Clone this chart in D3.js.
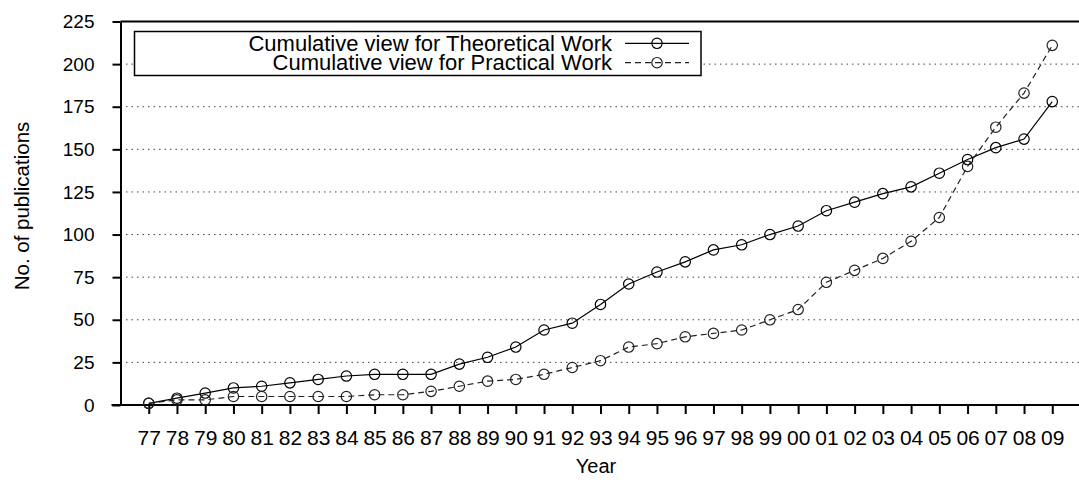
<!DOCTYPE html>
<html>
<head>
<meta charset="utf-8">
<script src="https://cdn.jsdelivr.net/npm/d3@7"></script>
<style>
  html, body { margin: 0; padding: 0; background: #fff; }
  svg { display: block; font-family: "Liberation Sans", Arial, Helvetica, sans-serif; }
</style>
</head>
<body>
<div id="chart"></div>
<script>
// two-digit year labels, 1977 .. 2009
const years = ['77', '78', '79', '80', '81', '82', '83', '84', '85', '86', '87', '88', '89', '90', '91', '92',
  '93', '94', '95', '96', '97', '98', '99', '00', '01', '02', '03', '04', '05', '06', '07', '08', '09'];

const theoretical = [1, 4, 7, 10, 11, 13, 15, 17, 18, 18, 18, 24, 28, 34, 44, 48,
  59, 71, 78, 84, 91, 94, 100, 105, 114, 119, 124, 128, 136, 144, 151, 156, 178];

const practical = [1, 3, 3, 5, 5, 5, 5, 5, 6, 6, 8, 11, 14, 15, 18, 22,
  26, 34, 36, 40, 42, 44, 50, 56, 72, 79, 86, 96, 110, 140, 163, 183, 211];

const yTicks = [0, 25, 50, 75, 100, 125, 150, 175, 200, 225];
const gridTicks = [25, 50, 75, 100, 125, 150, 175, 200];

const seriesNames = ['Cumulative view for Theoretical Work', 'Cumulative view for Practical Work'];

const width = 1079;
const height = 482;
const plot = { left: 120.5, right: 1080.5, top: 21.5, bottom: 405 };

const svg = d3.select('#chart').append('svg')
  .attr('width', width)
  .attr('height', height);

const x = d3.scaleLinear()
  .domain([-1, years.length])
  .range([plot.left, plot.right]);

const y = d3.scaleLinear()
  .domain([0, 225])
  .range([plot.bottom, plot.top]);

// dotted horizontal grid
svg.append('g')
  .selectAll('line')
  .data(gridTicks)
  .enter()
  .append('line')
  .attr('x1', plot.left)
  .attr('x2', plot.right)
  .attr('y1', d => y(d))
  .attr('y2', d => y(d))
  .attr('stroke', '#444')
  .attr('stroke-width', 1)
  .attr('stroke-dasharray', '1.5,4');

// top border
svg.append('line')
  .attr('x1', plot.left).attr('x2', plot.right)
  .attr('y1', plot.top).attr('y2', plot.top)
  .attr('stroke', '#000')
  .attr('stroke-width', 2);

const yAxis = svg.append('g')
  .attr('transform', `translate(${plot.left},0)`)
  .call(d3.axisLeft(y).tickValues(yTicks).tickSize(8).tickPadding(18).tickSizeOuter(0));

yAxis.select('.domain').attr('stroke-width', 2);
yAxis.selectAll('.tick line').attr('stroke-width', 2);
yAxis.selectAll('text')
  .attr('font-size', 19)
  .attr('fill', '#000');

const xAxis = svg.append('g')
  .attr('transform', `translate(0,${plot.bottom})`)
  .call(d3.axisBottom(x)
    .tickValues(d3.range(years.length))
    .tickFormat(i => years[i])
    .tickSize(9)
    .tickPadding(16)
    .tickSizeOuter(0));

xAxis.select('.domain').attr('stroke-width', 2).attr('d', `M${plot.left - 9},0H${plot.right}`);
xAxis.selectAll('.tick line').attr('stroke-width', 2);
xAxis.selectAll('text')
  .attr('font-size', 21)
  .attr('fill', '#000');

// axis titles
svg.append('text')
  .attr('x', 596)
  .attr('y', 473)
  .attr('text-anchor', 'middle')
  .attr('font-size', 20)
  .text('Year');

svg.append('text')
  .attr('transform', 'translate(29,206) rotate(-90)')
  .attr('text-anchor', 'middle')
  .attr('font-size', 20.5)
  .text('No. of publications');

const line = d3.line()
  .x((d, i) => x(i))
  .y(d => y(d));

const styles = [
  { data: theoretical, color: '#000', dash: null },
  { data: practical, color: '#222', dash: '6,4' }
];

styles.forEach(s => {
  svg.append('path')
    .datum(s.data)
    .attr('d', line)
    .attr('fill', 'none')
    .attr('stroke', s.color)
    .attr('stroke-width', 1.2)
    .attr('stroke-dasharray', s.dash);

  svg.append('g')
    .selectAll('circle')
    .data(s.data)
    .enter()
    .append('circle')
    .attr('cx', (d, i) => x(i))
    .attr('cy', d => y(d))
    .attr('r', 5.2)
    .attr('fill', 'none')
    .attr('stroke', s.color)
    .attr('stroke-width', 1.2);
});

// legend box (opaque, covers the grid)
const legend = svg.append('g');
legend.append('rect')
  .attr('x', 134.5)
  .attr('y', 31.5)
  .attr('width', 566.5)
  .attr('height', 44)
  .attr('fill', '#fff')
  .attr('stroke', '#000')
  .attr('stroke-width', 1.5);

const rows = legend.selectAll('.row')
  .data(styles)
  .enter()
  .append('g')
  .attr('class', 'row')
  .attr('transform', (d, i) => `translate(0,${43.3 + i * 19.4})`);

rows.append('text')
  .attr('x', 612)
  .attr('y', 7.5)
  .attr('text-anchor', 'end')
  .attr('font-size', 22)
  .text((d, i) => seriesNames[i]);

rows.append('line')
  .attr('x1', 625).attr('x2', 689)
  .attr('y1', 0).attr('y2', 0)
  .attr('stroke', d => d.color)
  .attr('stroke-width', 1.2)
  .attr('stroke-dasharray', d => d.dash);

rows.append('circle')
  .attr('cx', 657)
  .attr('cy', 0)
  .attr('r', 5.2)
  .attr('fill', 'none')
  .attr('stroke', d => d.color)
  .attr('stroke-width', 1.2);
</script>
</body>
</html>
